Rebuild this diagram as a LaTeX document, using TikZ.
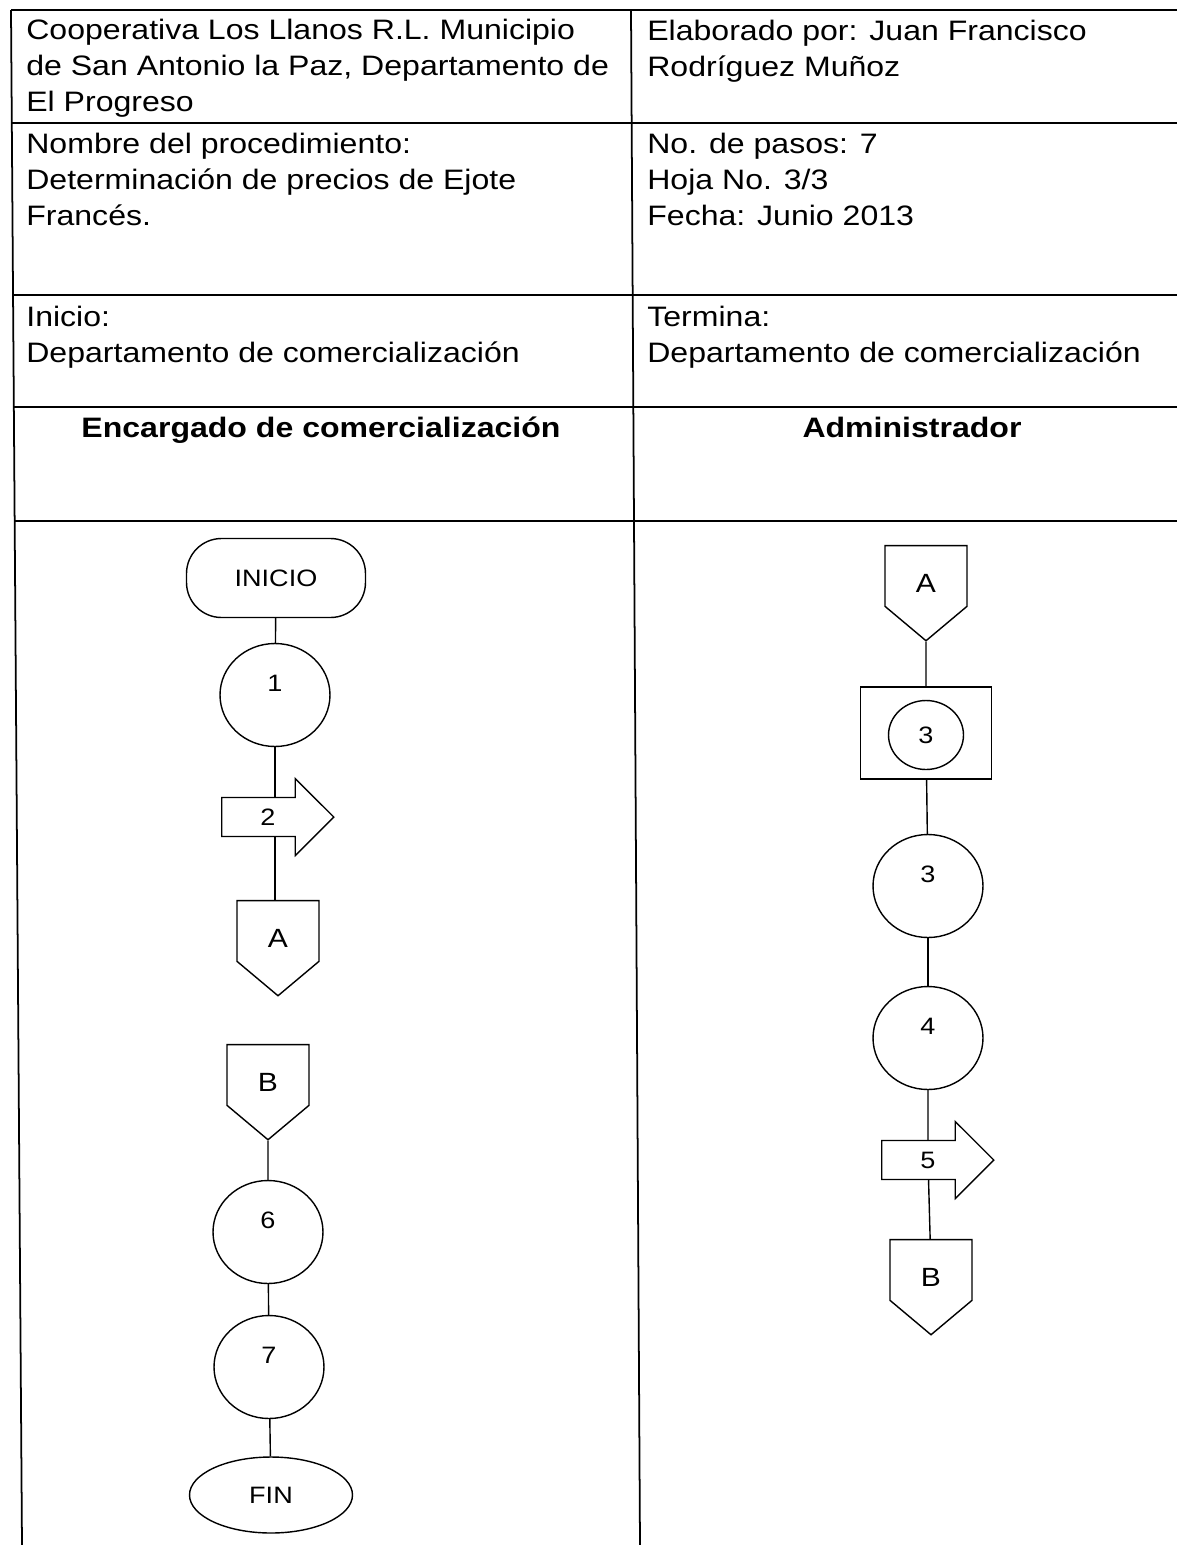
\documentclass[tikz,border=0pt]{standalone}
\usepackage{fontspec}
\setmainfont{Liberation Sans}[FakeStretch=1.14]
\usepackage{tikz}
\usetikzlibrary{positioning,shapes.geometric,shapes.symbols,shapes.arrows}

\tikzset{
  tabla/.style={line width=1pt},
  celda/.style={anchor=base west, align=left, inner sep=0pt, font=\fontsize{16}{20.4}\selectfont},
  titulo/.style={anchor=base, inner sep=0pt, font=\fontsize{16}{20.4}\selectfont\bfseries},
  forma/.style={draw, fill=white, line width=0.8pt, font=\fontsize{13.5}{16}\selectfont},
  terminal/.style={forma, rectangle, rounded corners=0.7cm, minimum width=3.58cm, minimum height=1.58cm},
  paso/.style={forma, ellipse, minimum width=2.2cm, minimum height=2.06cm, text depth=13pt},
  fin/.style={forma, ellipse, minimum width=3.26cm, minimum height=1.52cm},
  conector/.style={forma, signal, signal to=south, signal from=nowhere, signal pointer angle=100,
    minimum width=1.64cm, minimum height=1.48cm, font=\fontsize{15}{18}\selectfont,
    text height=18.7pt, text depth=0pt},
  flecha/.style={forma, single arrow, minimum height=2.24cm, single arrow head extend=0.38cm, inner ysep=6pt},
  caja/.style={forma, rectangle, minimum width=2.62cm, minimum height=1.84cm},
  interno/.style={forma, ellipse, minimum width=1.5cm, minimum height=1.38cm},
  linea/.style={line width=0.8pt}
}

\begin{document}
\begin{tikzpicture}[x=0.02cm, y=-0.02cm]
  \useasboundingbox (0,0) rectangle (1177,1545);

  % tabla
  \draw[tabla] (11,10) -- (1177,10);
  \draw[tabla] (11,123) -- (1177,123);
  \draw[tabla] (12,295) -- (1177,295);
  \draw[tabla] (13,407) -- (1177,407);
  \draw[tabla] (14,521) -- (1177,521);
  \draw[tabla] (11,10) -- (22,1545);
  \draw[tabla] (631,10) -- (640,1545);

  % encabezado
  \node[celda] (coop) at (26,111) {Cooperativa Los Llanos R.L. Municipio\\de San Antonio la Paz, Departamento de\\El Progreso};
  \node[celda] (elab) at (647,76) {Elaborado por: Juan Francisco\\Rodríguez Muñoz};
  \node[celda] (nombre) at (26,225) {Nombre del procedimiento:\\Determinación de precios de Ejote\\Francés.};
  \node[celda] (pasos) at (647,225) {No. de pasos: 7\\Hoja No. 3/3\\Fecha: Junio 2013};
  \node[celda] (inicio) at (26,362) {Inicio:\\Departamento de comercialización};
  \node[celda] (termina) at (647,362) {Termina:\\Departamento de comercialización};
  \node[titulo] (encargado) at (321,437) {Encargado de comercialización};
  \node[titulo] (admin) at (912,437) {Administrador};

  % encargado de comercializacion
  \node[terminal] (ini) at (276,578) {INICIO};
  \node[paso] (p1) at (275,695) {1};
  \node[flecha] (p2) at (268,817) {2};
  \node[conector] (cA) at (278,931) {A};
  \node[conector] (cB) at (268,1075) {B};
  \node[paso] (p6) at (268,1232) {6};
  \node[paso] (p7) at (269,1367) {7};
  \node[fin] (fin) at (271,1495) {FIN};

  % administrador
  \node[conector] (cA2) at (926,576) {A};
  \node[caja] (caja) at (926,733) {};
  \node[interno] (p3b) at (926,735) {3};
  \node[paso] (p3) at (928,886) {3};
  \node[paso] (p4) at (928,1038) {4};
  \node[flecha] (p5) at (928,1160) {5};
  \node[conector] (cB2) at (931,1270) {B};

  % lineas
  \draw[linea] (ini) -- (p1);
  \draw[linea] (p1) -- (p1 |- p2.north);
  \draw[linea] (p2.south -| p1) -- (p1 |- cA.north);
  \draw[linea] (cB) -- (p6);
  \draw[linea] (p6) -- (p7);
  \draw[linea] (p7) -- (fin);
  \draw[linea] (cA2) -- (caja);
  \draw[linea] (caja) -- (p3);
  \draw[linea] (p3) -- (p4);
  \draw[linea] (p4) -- (p5);
  \draw[linea] (p5) -- (cB2);
\end{tikzpicture}
\end{document}
